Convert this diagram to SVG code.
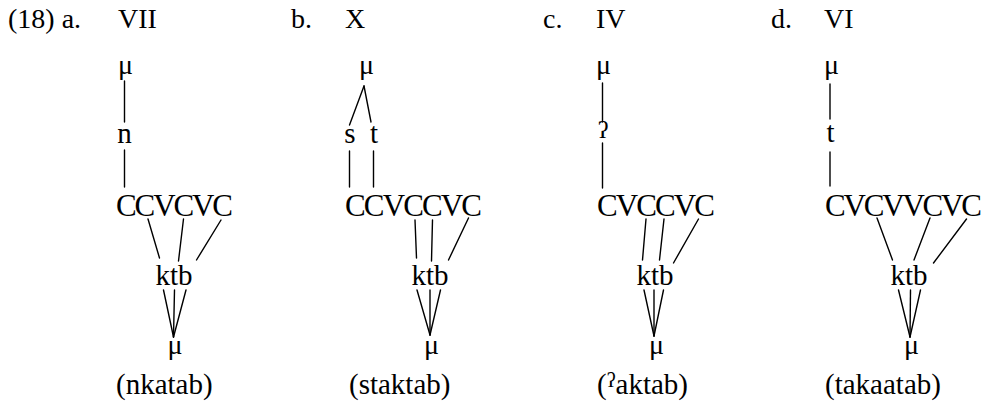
<svg xmlns="http://www.w3.org/2000/svg" width="991" height="407" viewBox="0 0 991 407">
  <style>
    text { font-family: "Liberation Serif", "DejaVu Serif", serif; fill: #000; }
    .hd { font-size: 28px; }
    .cv { font-size: 31px; }
    .seg { font-size: 29px; text-anchor: middle; }
    .mu { font-size: 28px; text-anchor: middle; }
    .gs { font-size: 24px; text-anchor: middle; }
    .form { font-size: 29px; }
    .ln { stroke: #000; stroke-width: 1.4; fill: none; stroke-linecap: round; }
  </style>
  <rect width="991" height="407" fill="#fff"/>

  <!-- headings -->
  <g id="heading-a"><text class="hd" x="8" y="28">(18) a.</text><text class="hd" x="118" y="28">VII</text></g>
  <g id="heading-b"><text class="hd" x="291" y="28">b.</text><text class="hd" x="345" y="28">X</text></g>
  <g id="heading-c"><text class="hd" x="543" y="28">c.</text><text class="hd" x="596" y="28">IV</text></g>
  <g id="heading-d"><text class="hd" x="771" y="28">d.</text><text class="hd" x="824" y="28">VI</text></g>

  <!-- (a) VII -->
  <g id="a-mu-top"><text class="mu" x="125.5" y="74">μ</text></g>
  <g id="a-n"><text class="seg" x="124.5" y="143">n</text></g>
  <g id="a-skeleton"><text class="cv" x="116" y="216" textLength="117" lengthAdjust="spacing">CCVCVC</text></g>
  <g id="a-root"><text class="seg" x="174" y="285">ktb</text></g>
  <g id="a-mu-bottom"><text class="mu" x="175" y="354">μ</text></g>
  <g id="a-form"><text class="form" x="116" y="394">(nkatab)</text></g>

  <!-- (b) X -->
  <g id="b-mu-top"><text class="mu" x="366.5" y="74">μ</text></g>
  <g id="b-s"><text class="seg" x="350" y="143">s</text></g>
  <g id="b-t"><text class="seg" x="374" y="143">t</text></g>
  <g id="b-skeleton"><text class="cv" x="345" y="216" textLength="137" lengthAdjust="spacing">CCVCCVC</text></g>
  <g id="b-root"><text class="seg" x="430" y="285">ktb</text></g>
  <g id="b-mu-bottom"><text class="mu" x="431.5" y="354">μ</text></g>
  <g id="b-form"><text class="form" x="349" y="394">(staktab)</text></g>

  <!-- (c) IV -->
  <g id="c-mu-top"><text class="mu" x="603.5" y="74">μ</text></g>
  <g id="c-glottal"><text class="gs" x="603" y="138">ʔ</text></g>
  <g id="c-skeleton"><text class="cv" x="597" y="216" textLength="118" lengthAdjust="spacing">CVCCVC</text></g>
  <g id="c-root"><text class="seg" x="655" y="285">ktb</text></g>
  <g id="c-mu-bottom"><text class="mu" x="656.5" y="354">μ</text></g>
  <g id="c-form"><text class="form" x="597" y="394">(<tspan font-size="20" dy="-7">ʔ</tspan><tspan dy="7">aktab)</tspan></text></g>

  <!-- (d) VI -->
  <g id="d-mu-top"><text class="mu" x="831.5" y="74">μ</text></g>
  <g id="d-t"><text class="seg" x="830.5" y="142">t</text></g>
  <g id="d-skeleton"><text class="cv" x="825" y="216" textLength="157" lengthAdjust="spacing">CVCVVCVC</text></g>
  <g id="d-root"><text class="seg" x="909" y="285">ktb</text></g>
  <g id="d-mu-bottom"><text class="mu" x="911.5" y="354">μ</text></g>
  <g id="d-form"><text class="form" x="825" y="394">(takaatab)</text></g>

  <!-- association lines -->
  <g id="connectors" class="ln">
    <!-- a -->
    <line x1="124.5" y1="81" x2="124.5" y2="122"/>
    <line x1="124.5" y1="150" x2="124.5" y2="187"/>
    <line x1="148" y1="219" x2="159.5" y2="258"/>
    <line x1="183.5" y1="219" x2="178.5" y2="261"/>
    <line x1="221" y1="220" x2="196.5" y2="260"/>
    <line x1="163.5" y1="290" x2="173.5" y2="337"/>
    <line x1="174.5" y1="290" x2="173.5" y2="337"/>
    <line x1="186" y1="290" x2="173.5" y2="337"/>
    <!-- b -->
    <line x1="364" y1="86" x2="349.5" y2="125"/>
    <line x1="364" y1="86" x2="371" y2="122"/>
    <line x1="349.5" y1="151" x2="349.5" y2="187"/>
    <line x1="373.5" y1="151" x2="373.5" y2="187"/>
    <line x1="415" y1="220" x2="416.5" y2="258"/>
    <line x1="432.5" y1="220" x2="431.5" y2="261"/>
    <line x1="468.5" y1="218" x2="448.5" y2="260"/>
    <line x1="417" y1="290" x2="430" y2="335"/>
    <line x1="430" y1="290" x2="430" y2="335"/>
    <line x1="440.5" y1="290" x2="430" y2="335"/>
    <!-- c -->
    <line x1="602.5" y1="83" x2="602.5" y2="122"/>
    <line x1="602.5" y1="143" x2="602.5" y2="188"/>
    <line x1="646" y1="219" x2="642.5" y2="260"/>
    <line x1="664" y1="219" x2="659.5" y2="260"/>
    <line x1="698.5" y1="219" x2="673.5" y2="263"/>
    <line x1="644" y1="290" x2="654" y2="336"/>
    <line x1="654" y1="290" x2="654" y2="336"/>
    <line x1="663.5" y1="290" x2="654" y2="336"/>
    <!-- d -->
    <line x1="830" y1="84" x2="830" y2="119"/>
    <line x1="830" y1="152" x2="830" y2="186"/>
    <line x1="877" y1="218" x2="892.5" y2="260"/>
    <line x1="930" y1="218" x2="914" y2="260"/>
    <line x1="966.5" y1="219" x2="933.5" y2="263"/>
    <line x1="898.5" y1="290" x2="910" y2="337"/>
    <line x1="910.5" y1="290" x2="910" y2="337"/>
    <line x1="920.5" y1="290" x2="910" y2="337"/>
  </g>
</svg>
